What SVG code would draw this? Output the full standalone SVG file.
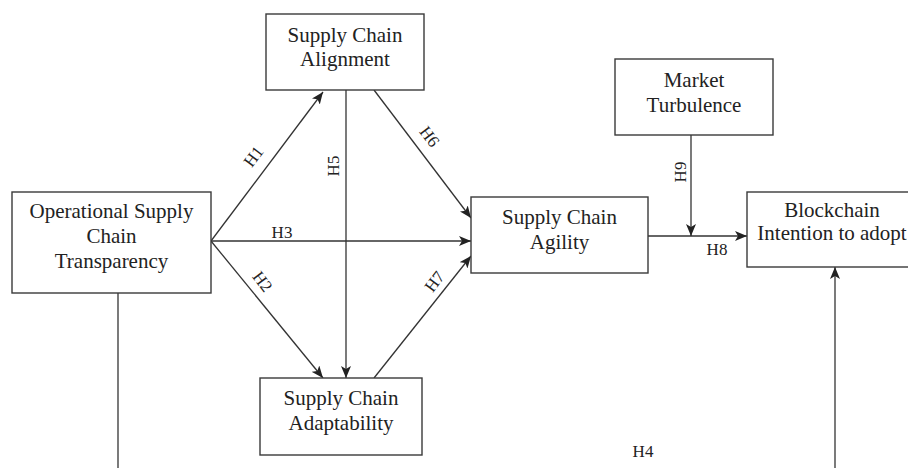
<svg xmlns="http://www.w3.org/2000/svg" width="908" height="468" viewBox="0 0 908 468">
<style>
.box{fill:#fff;stroke:#3a3a3a;stroke-width:1.4}
.t{font-family:"Liberation Serif","Times New Roman",serif;font-size:21px;fill:#222;text-anchor:middle}
.l{font-family:"Liberation Serif","Times New Roman",serif;font-size:17px;fill:#222;text-anchor:middle}
.c{stroke:#333;stroke-width:1.3;fill:none}
.a{marker-end:url(#arr)}
</style>
<defs>
<marker id="arr" viewBox="0 0 12 10" refX="12" refY="5" markerWidth="12" markerHeight="10" markerUnits="userSpaceOnUse" orient="auto">
<path d="M0,0 L12,5 L0,10 L3,5 z" fill="#222"/>
</marker>
</defs>
<rect width="908" height="468" fill="#fff"/>
<g id="connectors">
<line class="c a" x1="211" y1="241" x2="323" y2="92"/>
<line class="c a" x1="211" y1="241" x2="471" y2="241"/>
<line class="c a" x1="211" y1="241" x2="323" y2="378"/>
<line class="c a" x1="346" y1="90" x2="346" y2="378"/>
<line class="c a" x1="374" y1="90" x2="471" y2="218"/>
<line class="c a" x1="374" y1="378" x2="471" y2="256"/>
<line class="c a" x1="648" y1="236" x2="747" y2="236"/>
<line class="c a" x1="691" y1="135" x2="691" y2="236"/>
<line class="c" x1="118" y1="293" x2="118" y2="468"/>
<line class="c a" x1="835" y1="468" x2="835" y2="267"/>
<text class="l" transform="translate(258,160) rotate(-53)">H1</text>
<text class="l" transform="translate(339,166) rotate(-90)">H5</text>
<text class="l" transform="translate(425,140) rotate(53)">H6</text>
<text class="l" x="282" y="238">H3</text>
<text class="l" transform="translate(258,285) rotate(53)">H2</text>
<text class="l" transform="translate(439,285) rotate(-53)">H7</text>
<text class="l" transform="translate(686,172) rotate(-90)">H9</text>
<text class="l" x="717" y="255">H8</text>
<text class="l" x="643" y="457">H4</text>
</g>
<g id="osct">
<rect class="box" x="12" y="192" width="199" height="101"/>
<text class="t" x="111.5" y="218">Operational Supply</text>
<text class="t" x="111.5" y="243">Chain</text>
<text class="t" x="111.5" y="268">Transparency</text>
</g>
<g id="alignment">
<rect class="box" x="266" y="14" width="158" height="76"/>
<text class="t" x="345" y="42">Supply Chain</text>
<text class="t" x="345" y="66">Alignment</text>
</g>
<g id="adaptability">
<rect class="box" x="260" y="378" width="162" height="77"/>
<text class="t" x="341" y="405">Supply Chain</text>
<text class="t" x="341" y="430">Adaptability</text>
</g>
<g id="agility">
<rect class="box" x="471" y="197" width="177" height="76"/>
<text class="t" x="559.5" y="224">Supply Chain</text>
<text class="t" x="559.5" y="249">Agility</text>
</g>
<g id="market">
<rect class="box" x="615" y="59" width="158" height="76"/>
<text class="t" x="694" y="87">Market</text>
<text class="t" x="694" y="112">Turbulence</text>
</g>
<g id="blockchain">
<rect class="box" x="747" y="192" width="170" height="75"/>
<text class="t" x="832" y="217">Blockchain</text>
<text class="t" x="832" y="240">Intention to adopt</text>
</g>
</svg>
